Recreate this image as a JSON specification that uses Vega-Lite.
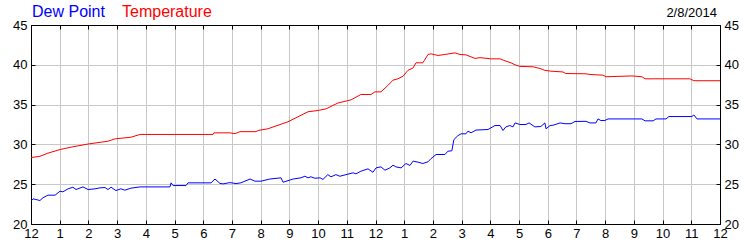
{
  "$schema": "https://vega.github.io/schema/vega-lite/v6.json",
  "autosize": "none",
  "width": 689,
  "height": 199,
  "padding": {"left": 31, "top": 25, "right": 30, "bottom": 26},
  "background": "#ffffff",
  "config": {
    "font": "Liberation Sans",
    "view": {"stroke": null},
    "axis": {
      "title": null,
      "domainColor": "#000000",
      "domainWidth": 1,
      "tickColor": "#000000",
      "tickSize": -4,
      "tickWidth": 1,
      "gridColor": "#c8c8c8",
      "gridWidth": 1,
      "labelFont": "Liberation Sans",
      "labelFontSize": 13,
      "labelColor": "#000000",
      "labelFlush": false,
      "labelOverlap": false
    }
  },
  "title": {
    "text": "2/8/2014",
    "anchor": "end",
    "frame": "group",
    "fontSize": 13,
    "fontWeight": "normal",
    "font": "Liberation Sans",
    "color": "#000000",
    "baseline": "bottom",
    "offset": 0,
    "dy": 29,
    "dx": -3
  },
  "data": {
    "values": [
      {"h": 0.0, "v": 28.35, "s": "Temperature"},
      {"h": 0.31, "v": 28.5, "s": "Temperature"},
      {"h": 0.59, "v": 28.9, "s": "Temperature"},
      {"h": 1.01, "v": 29.35, "s": "Temperature"},
      {"h": 1.39, "v": 29.65, "s": "Temperature"},
      {"h": 1.99, "v": 30.05, "s": "Temperature"},
      {"h": 2.68, "v": 30.4, "s": "Temperature"},
      {"h": 2.93, "v": 30.7, "s": "Temperature"},
      {"h": 3.48, "v": 30.9, "s": "Temperature"},
      {"h": 3.8, "v": 31.25, "s": "Temperature"},
      {"h": 6.34, "v": 31.25, "s": "Temperature"},
      {"h": 6.37, "v": 31.45, "s": "Temperature"},
      {"h": 6.93, "v": 31.45, "s": "Temperature"},
      {"h": 7.11, "v": 31.35, "s": "Temperature"},
      {"h": 7.28, "v": 31.6, "s": "Temperature"},
      {"h": 7.84, "v": 31.6, "s": "Temperature"},
      {"h": 7.91, "v": 31.75, "s": "Temperature"},
      {"h": 8.25, "v": 31.96, "s": "Temperature"},
      {"h": 8.95, "v": 32.84, "s": "Temperature"},
      {"h": 9.65, "v": 34.1, "s": "Temperature"},
      {"h": 10.0, "v": 34.26, "s": "Temperature"},
      {"h": 10.28, "v": 34.47, "s": "Temperature"},
      {"h": 10.69, "v": 35.2, "s": "Temperature"},
      {"h": 11.15, "v": 35.6, "s": "Temperature"},
      {"h": 11.49, "v": 36.27, "s": "Temperature"},
      {"h": 11.84, "v": 36.27, "s": "Temperature"},
      {"h": 11.98, "v": 36.6, "s": "Temperature"},
      {"h": 12.19, "v": 36.6, "s": "Temperature"},
      {"h": 12.43, "v": 37.4, "s": "Temperature"},
      {"h": 12.61, "v": 38.07, "s": "Temperature"},
      {"h": 12.78, "v": 38.24, "s": "Temperature"},
      {"h": 12.96, "v": 38.57, "s": "Temperature"},
      {"h": 13.13, "v": 39.3, "s": "Temperature"},
      {"h": 13.31, "v": 39.6, "s": "Temperature"},
      {"h": 13.41, "v": 40.25, "s": "Temperature"},
      {"h": 13.65, "v": 40.25, "s": "Temperature"},
      {"h": 13.83, "v": 41.3, "s": "Temperature"},
      {"h": 13.93, "v": 41.38, "s": "Temperature"},
      {"h": 14.18, "v": 41.17, "s": "Temperature"},
      {"h": 14.42, "v": 41.3, "s": "Temperature"},
      {"h": 14.77, "v": 41.5, "s": "Temperature"},
      {"h": 14.94, "v": 41.3, "s": "Temperature"},
      {"h": 15.15, "v": 41.25, "s": "Temperature"},
      {"h": 15.47, "v": 40.8, "s": "Temperature"},
      {"h": 15.64, "v": 40.9, "s": "Temperature"},
      {"h": 16.02, "v": 40.75, "s": "Temperature"},
      {"h": 16.34, "v": 40.75, "s": "Temperature"},
      {"h": 16.51, "v": 40.5, "s": "Temperature"},
      {"h": 16.72, "v": 40.25, "s": "Temperature"},
      {"h": 16.86, "v": 40.0, "s": "Temperature"},
      {"h": 17.03, "v": 39.8, "s": "Temperature"},
      {"h": 17.49, "v": 39.75, "s": "Temperature"},
      {"h": 17.76, "v": 39.5, "s": "Temperature"},
      {"h": 17.9, "v": 39.3, "s": "Temperature"},
      {"h": 18.11, "v": 39.2, "s": "Temperature"},
      {"h": 18.53, "v": 39.1, "s": "Temperature"},
      {"h": 18.63, "v": 38.9, "s": "Temperature"},
      {"h": 19.33, "v": 38.87, "s": "Temperature"},
      {"h": 19.47, "v": 38.78, "s": "Temperature"},
      {"h": 19.92, "v": 38.7, "s": "Temperature"},
      {"h": 20.03, "v": 38.5, "s": "Temperature"},
      {"h": 20.93, "v": 38.6, "s": "Temperature"},
      {"h": 21.28, "v": 38.5, "s": "Temperature"},
      {"h": 21.39, "v": 38.24, "s": "Temperature"},
      {"h": 22.95, "v": 38.24, "s": "Temperature"},
      {"h": 23.09, "v": 38.0, "s": "Temperature"},
      {"h": 24.0, "v": 38.0, "s": "Temperature"},
      {"h": 0.0, "v": 22.9, "s": "Dew Point"},
      {"h": 0.07, "v": 23.16, "s": "Dew Point"},
      {"h": 0.17, "v": 23.08, "s": "Dew Point"},
      {"h": 0.31, "v": 22.95, "s": "Dew Point"},
      {"h": 0.42, "v": 23.3, "s": "Dew Point"},
      {"h": 0.59, "v": 23.62, "s": "Dew Point"},
      {"h": 0.84, "v": 23.62, "s": "Dew Point"},
      {"h": 1.01, "v": 24.12, "s": "Dew Point"},
      {"h": 1.11, "v": 24.04, "s": "Dew Point"},
      {"h": 1.29, "v": 24.42, "s": "Dew Point"},
      {"h": 1.46, "v": 24.62, "s": "Dew Point"},
      {"h": 1.57, "v": 24.33, "s": "Dew Point"},
      {"h": 1.81, "v": 24.66, "s": "Dew Point"},
      {"h": 1.99, "v": 24.33, "s": "Dew Point"},
      {"h": 2.23, "v": 24.42, "s": "Dew Point"},
      {"h": 2.4, "v": 24.54, "s": "Dew Point"},
      {"h": 2.58, "v": 24.58, "s": "Dew Point"},
      {"h": 2.68, "v": 24.33, "s": "Dew Point"},
      {"h": 2.79, "v": 24.62, "s": "Dew Point"},
      {"h": 2.96, "v": 24.2, "s": "Dew Point"},
      {"h": 3.13, "v": 24.42, "s": "Dew Point"},
      {"h": 3.27, "v": 24.25, "s": "Dew Point"},
      {"h": 3.48, "v": 24.5, "s": "Dew Point"},
      {"h": 3.8, "v": 24.66, "s": "Dew Point"},
      {"h": 4.84, "v": 24.66, "s": "Dew Point"},
      {"h": 4.88, "v": 25.17, "s": "Dew Point"},
      {"h": 4.95, "v": 24.83, "s": "Dew Point"},
      {"h": 5.4, "v": 24.83, "s": "Dew Point"},
      {"h": 5.47, "v": 25.17, "s": "Dew Point"},
      {"h": 6.27, "v": 25.17, "s": "Dew Point"},
      {"h": 6.41, "v": 25.65, "s": "Dew Point"},
      {"h": 6.58, "v": 25.1, "s": "Dew Point"},
      {"h": 6.69, "v": 25.04, "s": "Dew Point"},
      {"h": 6.93, "v": 25.2, "s": "Dew Point"},
      {"h": 7.14, "v": 25.08, "s": "Dew Point"},
      {"h": 7.31, "v": 25.17, "s": "Dew Point"},
      {"h": 7.63, "v": 25.65, "s": "Dew Point"},
      {"h": 7.8, "v": 25.38, "s": "Dew Point"},
      {"h": 8.01, "v": 25.38, "s": "Dew Point"},
      {"h": 8.32, "v": 25.65, "s": "Dew Point"},
      {"h": 8.71, "v": 25.8, "s": "Dew Point"},
      {"h": 8.78, "v": 25.25, "s": "Dew Point"},
      {"h": 9.13, "v": 25.65, "s": "Dew Point"},
      {"h": 9.4, "v": 25.8, "s": "Dew Point"},
      {"h": 9.54, "v": 26.0, "s": "Dew Point"},
      {"h": 9.65, "v": 25.8, "s": "Dew Point"},
      {"h": 9.75, "v": 25.93, "s": "Dew Point"},
      {"h": 9.89, "v": 25.75, "s": "Dew Point"},
      {"h": 10.07, "v": 25.8, "s": "Dew Point"},
      {"h": 10.17, "v": 25.6, "s": "Dew Point"},
      {"h": 10.34, "v": 26.2, "s": "Dew Point"},
      {"h": 10.45, "v": 25.93, "s": "Dew Point"},
      {"h": 10.62, "v": 26.2, "s": "Dew Point"},
      {"h": 10.76, "v": 26.0, "s": "Dew Point"},
      {"h": 10.97, "v": 26.2, "s": "Dew Point"},
      {"h": 11.22, "v": 26.43, "s": "Dew Point"},
      {"h": 11.32, "v": 26.3, "s": "Dew Point"},
      {"h": 11.49, "v": 26.63, "s": "Dew Point"},
      {"h": 11.74, "v": 26.93, "s": "Dew Point"},
      {"h": 11.91, "v": 26.5, "s": "Dew Point"},
      {"h": 12.02, "v": 27.05, "s": "Dew Point"},
      {"h": 12.19, "v": 27.18, "s": "Dew Point"},
      {"h": 12.33, "v": 26.76, "s": "Dew Point"},
      {"h": 12.5, "v": 27.05, "s": "Dew Point"},
      {"h": 12.61, "v": 27.39, "s": "Dew Point"},
      {"h": 12.71, "v": 27.18, "s": "Dew Point"},
      {"h": 12.89, "v": 27.05, "s": "Dew Point"},
      {"h": 13.06, "v": 27.6, "s": "Dew Point"},
      {"h": 13.2, "v": 27.35, "s": "Dew Point"},
      {"h": 13.31, "v": 27.9, "s": "Dew Point"},
      {"h": 13.48, "v": 27.77, "s": "Dew Point"},
      {"h": 13.65, "v": 27.6, "s": "Dew Point"},
      {"h": 13.83, "v": 27.82, "s": "Dew Point"},
      {"h": 13.93, "v": 28.2, "s": "Dew Point"},
      {"h": 14.11, "v": 28.73, "s": "Dew Point"},
      {"h": 14.42, "v": 28.73, "s": "Dew Point"},
      {"h": 14.52, "v": 29.14, "s": "Dew Point"},
      {"h": 14.66, "v": 29.2, "s": "Dew Point"},
      {"h": 14.73, "v": 30.6, "s": "Dew Point"},
      {"h": 14.87, "v": 31.1, "s": "Dew Point"},
      {"h": 14.98, "v": 31.33, "s": "Dew Point"},
      {"h": 15.15, "v": 31.33, "s": "Dew Point"},
      {"h": 15.22, "v": 31.66, "s": "Dew Point"},
      {"h": 15.33, "v": 31.46, "s": "Dew Point"},
      {"h": 15.5, "v": 31.8, "s": "Dew Point"},
      {"h": 15.92, "v": 31.87, "s": "Dew Point"},
      {"h": 16.16, "v": 32.37, "s": "Dew Point"},
      {"h": 16.34, "v": 32.37, "s": "Dew Point"},
      {"h": 16.44, "v": 31.75, "s": "Dew Point"},
      {"h": 16.54, "v": 32.2, "s": "Dew Point"},
      {"h": 16.68, "v": 32.37, "s": "Dew Point"},
      {"h": 16.79, "v": 32.2, "s": "Dew Point"},
      {"h": 16.86, "v": 32.7, "s": "Dew Point"},
      {"h": 17.03, "v": 32.5, "s": "Dew Point"},
      {"h": 17.24, "v": 32.5, "s": "Dew Point"},
      {"h": 17.35, "v": 32.7, "s": "Dew Point"},
      {"h": 17.55, "v": 32.2, "s": "Dew Point"},
      {"h": 17.76, "v": 32.25, "s": "Dew Point"},
      {"h": 17.9, "v": 32.7, "s": "Dew Point"},
      {"h": 17.94, "v": 31.96, "s": "Dew Point"},
      {"h": 18.08, "v": 32.37, "s": "Dew Point"},
      {"h": 18.18, "v": 32.4, "s": "Dew Point"},
      {"h": 18.43, "v": 32.7, "s": "Dew Point"},
      {"h": 18.6, "v": 32.6, "s": "Dew Point"},
      {"h": 18.81, "v": 32.6, "s": "Dew Point"},
      {"h": 18.95, "v": 32.88, "s": "Dew Point"},
      {"h": 19.33, "v": 32.9, "s": "Dew Point"},
      {"h": 19.47, "v": 32.7, "s": "Dew Point"},
      {"h": 19.68, "v": 32.7, "s": "Dew Point"},
      {"h": 19.75, "v": 33.2, "s": "Dew Point"},
      {"h": 19.85, "v": 33.0, "s": "Dew Point"},
      {"h": 19.99, "v": 33.0, "s": "Dew Point"},
      {"h": 20.1, "v": 33.2, "s": "Dew Point"},
      {"h": 21.28, "v": 33.2, "s": "Dew Point"},
      {"h": 21.39, "v": 32.96, "s": "Dew Point"},
      {"h": 21.67, "v": 32.96, "s": "Dew Point"},
      {"h": 21.77, "v": 33.2, "s": "Dew Point"},
      {"h": 22.12, "v": 33.2, "s": "Dew Point"},
      {"h": 22.22, "v": 33.5, "s": "Dew Point"},
      {"h": 23.02, "v": 33.5, "s": "Dew Point"},
      {"h": 23.09, "v": 33.7, "s": "Dew Point"},
      {"h": 23.2, "v": 33.2, "s": "Dew Point"},
      {"h": 24.0, "v": 33.2, "s": "Dew Point"}
    ]
  },
  "layer": [
    {
      "mark": {"type": "line", "strokeWidth": 1, "clip": true},
      "encoding": {
        "x": {
          "field": "h", "type": "quantitative",
          "scale": {"domain": [0, 24], "nice": false, "zero": false},
          "axis": {
            "orient": "bottom",
            "values": [0,1,2,3,4,5,6,7,8,9,10,11,12,13,14,15,16,17,18,19,20,21,22,23,24],
            "labelExpr": "datum.value % 12 == 0 ? '12' : '' + (datum.value % 12)",
            "grid": true,
            "labelPadding": 7
          }
        },
        "y": {
          "field": "v", "type": "quantitative",
          "scale": {"domain": [20, 45], "nice": false, "zero": false},
          "axis": {
            "orient": "left",
            "values": [20, 25, 30, 35, 40, 45],
            "grid": true,
            "labelPadding": 8
          }
        },
        "color": {
          "field": "s", "type": "nominal",
          "scale": {"domain": ["Dew Point", "Temperature"], "range": ["#0000ff", "#ff0000"]},
          "legend": {
            "orient": "none",
            "legendX": -15,
            "legendY": -21,
            "direction": "horizontal",
            "title": null,
            "symbolSize": 0,
            "symbolStrokeWidth": 0,
            "symbolOpacity": 0,
            "labelOffset": 0,
            "labelFont": "Liberation Sans",
            "labelFontSize": 16,
            "labelLimit": 0,
            "columnPadding": 1,
            "padding": 0,
            "labelColor": {"expr": "datum.label == 'Dew Point' ? '#0000ff' : '#ff0000'"}
          }
        }
      }
    },
    {
      "mark": {"type": "line", "strokeOpacity": 0},
      "encoding": {
        "x": {
          "field": "h", "type": "quantitative",
          "scale": {"domain": [0, 24], "nice": false, "zero": false},
          "axis": {
            "orient": "top",
            "values": [0,1,2,3,4,5,6,7,8,9,10,11,12,13,14,15,16,17,18,19,20,21,22,23,24],
            "labels": false,
            "grid": false
          }
        },
        "y": {
          "field": "v", "type": "quantitative",
          "scale": {"domain": [20, 45], "nice": false, "zero": false},
          "axis": {
            "orient": "right",
            "values": [20, 25, 30, 35, 40, 45],
            "grid": false,
            "labelPadding": 8
          }
        },
        "detail": {"field": "s", "type": "nominal"}
      }
    }
  ],
  "resolve": {"axis": {"x": "independent", "y": "independent"}}
}
